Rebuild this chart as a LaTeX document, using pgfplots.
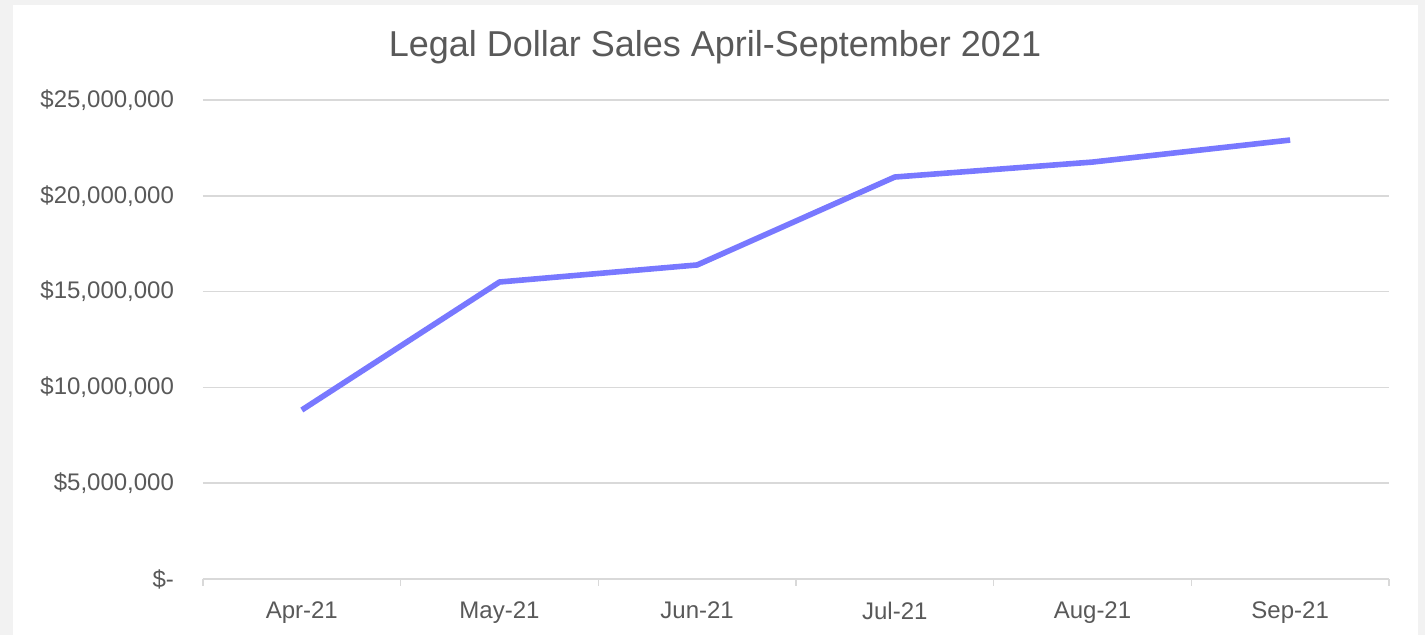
\documentclass[border=0pt]{standalone}
\usepackage{fontspec}
\setmainfont{Liberation Sans}
\usepackage{pgfplots}
\pgfplotsset{compat=1.18}
\definecolor{txt}{HTML}{595959}
\definecolor{gridc}{HTML}{D9D9D9}
\definecolor{frame}{HTML}{F2F2F2}
\definecolor{linec}{RGB}{120,120,255}

\begin{document}
\begin{tikzpicture}
% outer grey frame and white chart area (1px = 0.5pt)
\fill[frame] (-101.5pt,-28pt) rectangle (611pt,289.5pt);
\fill[white] (-95pt,-28pt) rectangle (607.5pt,287pt);
\node[txt, font=\fontsize{18}{20}\selectfont] at (256pt,266pt) {Legal Dollar Sales April-September 2021};
\begin{axis}[
    scale only axis,
    width=593pt,
    height=239.5pt,
    xmin=-0.5, xmax=5.5,
    ymin=0, ymax=25000000,
    xtick={0,...,5},
    xticklabels={Apr-21,May-21,Jun-21,Jul-21,Aug-21,Sep-21},
    minor xtick={-0.5,0.5,...,5.5},
    major tick length=0pt,
    minor tick length=3.5pt,
    tick align=outside,
    xtick pos=bottom,
    ytick pos=left,
    ytick={0,5000000,10000000,15000000,20000000,25000000},
    yticklabels={\$-,\$5{,}000{,}000,\$10{,}000{,}000,\$15{,}000{,}000,\$20{,}000{,}000,\$25{,}000{,}000},
    scaled y ticks=false,
    ymajorgrids=true,
    grid style={gridc, line width=0.75pt},
    minor tick style={gridc, line width=0.75pt},
    axis x line*=bottom,
    axis y line*=left,
    x axis line style={gridc, line width=0.75pt, -},
    y axis line style={draw=none},
    tick label style={txt, font=\fontsize{12}{14}\selectfont},
    xticklabel style={yshift=-8pt},
    yticklabel style={xshift=-11pt},
    clip=false,
]
\addplot[linec, line width=2.8pt, line join=round] coordinates {
    (0,8820000)
    (1,15500000)
    (2,16390000)
    (3,20980000)
    (4,21760000)
    (5,22910000)
};
\end{axis}
\end{tikzpicture}
\end{document}
